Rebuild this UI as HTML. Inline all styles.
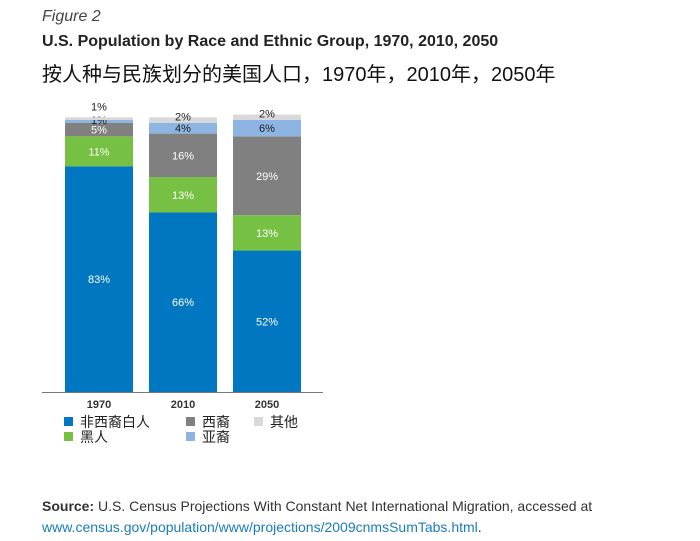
<!DOCTYPE html>
<html><head><meta charset="utf-8"><style>
body{margin:0;width:700px;height:541px;background:#fff;font-family:"Liberation Sans","Noto Sans CJK SC",sans-serif;position:relative;overflow:hidden}
.t{position:absolute;white-space:nowrap}
</style></head><body>
<div class="t" style="left:42px;top:8px;font-size:16px;font-style:italic;color:#444">Figure 2</div>
<div class="t" style="left:42px;top:33px;font-size:16px;font-weight:bold;color:#222">U.S. Population by Race and Ethnic Group, 1970, 2010, 2050</div>
<div class="t" style="left:42px;top:58px;font-size:20px;color:#111">按人种与民族划分的美国人口，1970年，2010年，2050年</div>
<svg id="chart" width="700" height="541" style="position:absolute;left:0;top:0" xmlns="http://www.w3.org/2000/svg"></svg>
<div class="t" style="left:42px;top:496px;font-size:14px;color:#333;line-height:21px"><b>Source:</b> U.S. Census Projections With Constant Net International Migration, accessed at<br><span style="color:#1a7bbf">www.census.gov/population/www/projections/2009cnmsSumTabs.html</span>.</div>
<script>
const categories=["1970","2010","2050"];
const seriesNames=["非西裔白人","黑人","西裔","亚裔","其他"];
const white=[83,66,52];
const black=[11,13,13];
const hispanic=[5,16,29];
const asian=[1,4,6];
const other=[1,2,2];
const colors=["#0077c0","#76c043","#808080","#8db4e2","#d9d9d9"];
const series=[white,black,hispanic,asian,other];
const svg=document.getElementById('chart');
const NS="http://www.w3.org/2000/svg";
const base=392,scale=2.72,barW=68;
const xs=i=>65+i*84;
const y=v=>base-v*scale;
function mk(t,a){const e=document.createElementNS(NS,t);for(const k in a)e.setAttribute(k,a[k]);svg.appendChild(e);return e;}
categories.forEach((c,i)=>{
  let cum=0;
  series.forEach((s,j)=>{
    const v=s[i];
    const r=mk('rect',{x:xs(i),y:y(cum+v),width:barW,height:v*scale,fill:colors[j]});
    
    
    let ly=y(cum+v/2)+4, fill=(j<3)?'#fff':'#222';
    if(v<3){ly=y(cum+v)+3; fill='#222';}
    if(i===0&&j===3){ly=y(cum+v)+4;}
    if(i===0&&j===4){ly=y(cum+v)-7;}
    const t=mk('text',{x:xs(i)+barW/2,y:ly,'text-anchor':'middle','font-size':11,fill:fill});
    t.textContent=v+'%';
    
    
    cum+=v;
  });
  const xl=mk('text',{x:xs(i)+barW/2,y:408,'text-anchor':'middle','font-size':11,'font-weight':'bold',fill:'#333'});
  xl.textContent=c;
  
  
});
const ax=mk('line',{x1:42,x2:323,y1:392.5,y2:392.5,stroke:'#777','stroke-width':1});


const lpos=[[64,425],[64,440],[186,425],[186,440],[254,425]];
seriesNames.forEach((n,j)=>{
  const [lx,ly]=lpos[j];
  const r=mk('rect',{x:lx,y:ly-8,width:9,height:9,fill:colors[j]});
  
  
  const t=mk('text',{x:lx+16,y:ly+2,'font-size':14,fill:'#222'});
  t.textContent=n;
  
  
});
</script>
</body></html>
